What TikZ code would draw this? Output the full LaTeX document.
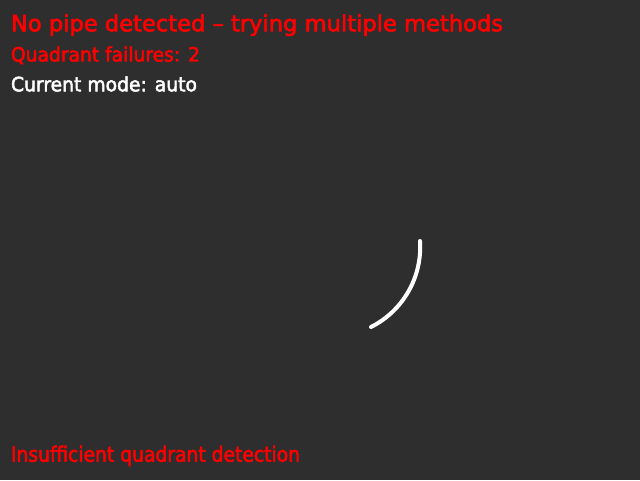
\documentclass[tikz,border=0pt]{standalone}
\usepackage{fontspec}
\setmainfont{DejaVu Sans}
\newfontfamily\lblfont{DejaVu Sans}[FakeBold=2.5]
\usepackage{graphicx}
\definecolor{bg}{RGB}{46,46,46}
\definecolor{cvred}{RGB}{255,0,0}
\begin{document}
\begin{tikzpicture}[x=1pt,y=1pt,
  lbl/.style={anchor=base west, inner sep=0pt, outer sep=0pt, font=\lblfont}]
\fill[bg] (0,0) rectangle (640,480);
\useasboundingbox (0,0) rectangle (640,480);
\node[lbl, text=cvred] (title) at (11,448.7) {\resizebox{492pt}{17pt}{No pipe detected – trying multiple methods}};
\node[lbl, text=cvred] (fail) at (11,418.5) {\resizebox{189pt}{15pt}{Quadrant failures: 2}};
\node[lbl, text=white] (mode) at (11,388.7) {\resizebox{186pt}{15pt}{Current mode: auto}};
\node[lbl, text=cvred] (insuf) at (11,18.3) {\resizebox{289pt}{16pt}{Insufficient quadrant detection}};
\draw[white, line width=4pt, line cap=round] (330.7,232.9) ++(3.9:89.5) arc[start angle=3.9, end angle=-63.2, radius=89.5];
\end{tikzpicture}
\end{document}
